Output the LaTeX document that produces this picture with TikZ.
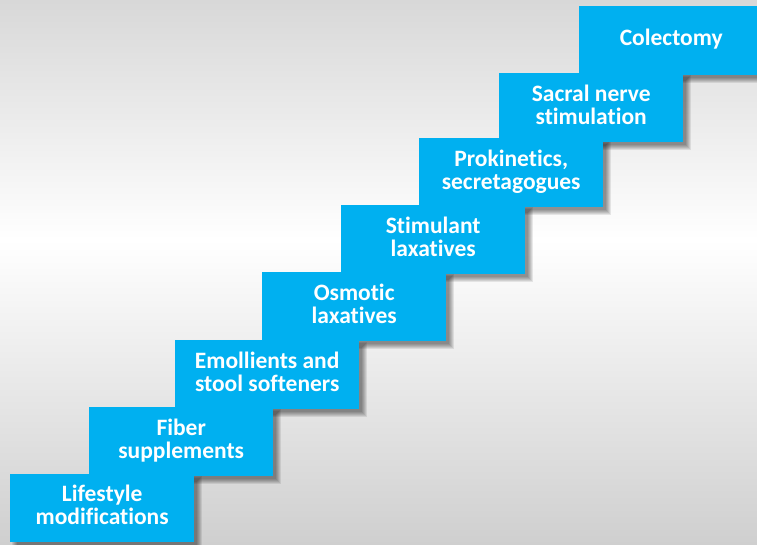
\documentclass[tikz,border=0pt]{standalone}
\usepackage{fontspec}
\setmainfont{Carlito}[Ligatures=NoCommon]
\pgfdeclarelayer{backdrop}
\pgfdeclarelayer{shade}
\pgfsetlayers{backdrop,shade,main}
\definecolor{stairblue}{HTML}{00B0F0}
\definecolor{bgtop}{HTML}{D8D8D8}
\definecolor{bgbottom}{HTML}{CFCFCF}
\pgfdeclareverticalshading{wallshade}{100bp}{%
  color(0bp)=(bgbottom); color(25bp)=(bgbottom);
  color(53bp)=(white); color(75bp)=(bgtop); color(100bp)=(bgtop)}
\tikzset{
  stepbox/.style={fill=stairblue, anchor=north west, inner sep=0pt,
    minimum width=184, minimum height=69, text=white, align=center,
    text depth=6.5pt,
    font=\fontsize{23.5}{23}\selectfont\bfseries},
}
\begin{document}
\begin{tikzpicture}[x=1pt, y=-1pt]
\useasboundingbox (0,0) rectangle (757,545);
\begin{pgfonlayer}{backdrop}
  \fill[shading=wallshade] (0,0) rectangle (757,545);
\end{pgfonlayer}
\begin{scope}
\clip (0,0) rectangle (757,545);
% the stairs, top step first so each lower step sits over the one above
\node[stepbox] (s8) at (579,6)   {Colectomy};
\node[stepbox] (s7) at (499,73)  {Sacral nerve\\stimulation};
\node[stepbox] (s6) at (419,138) {Prokinetics,\\secretagogues};
\node[stepbox] (s5) at (341,205) {Stimulant\\laxatives};
\node[stepbox] (s4) at (262,272) {Osmotic\\laxatives};
\node[stepbox] (s3) at (175,340) {Emollients and\\stool softeners};
\node[stepbox] (s2) at (89,407)  {Fiber\\supplements};
\node[stepbox, minimum height=68] (s1) at (10,474) {Lifestyle\\modifications};
% soft drop shadows under every step
\begin{pgfonlayer}{shade}
  \foreach \s in {s1,s2,s3,s4,s5,s6,s7,s8}{
    \foreach \r in {-2,-1,0,1,2,3}{
      \fill[black, fill opacity=0.085]
        ([shift={(5-\r,5-\r)}]\s.north west) rectangle ([shift={(5+\r,5+\r)}]\s.south east);
    }
  }
\end{pgfonlayer}
\end{scope}
\end{tikzpicture}
\end{document}
